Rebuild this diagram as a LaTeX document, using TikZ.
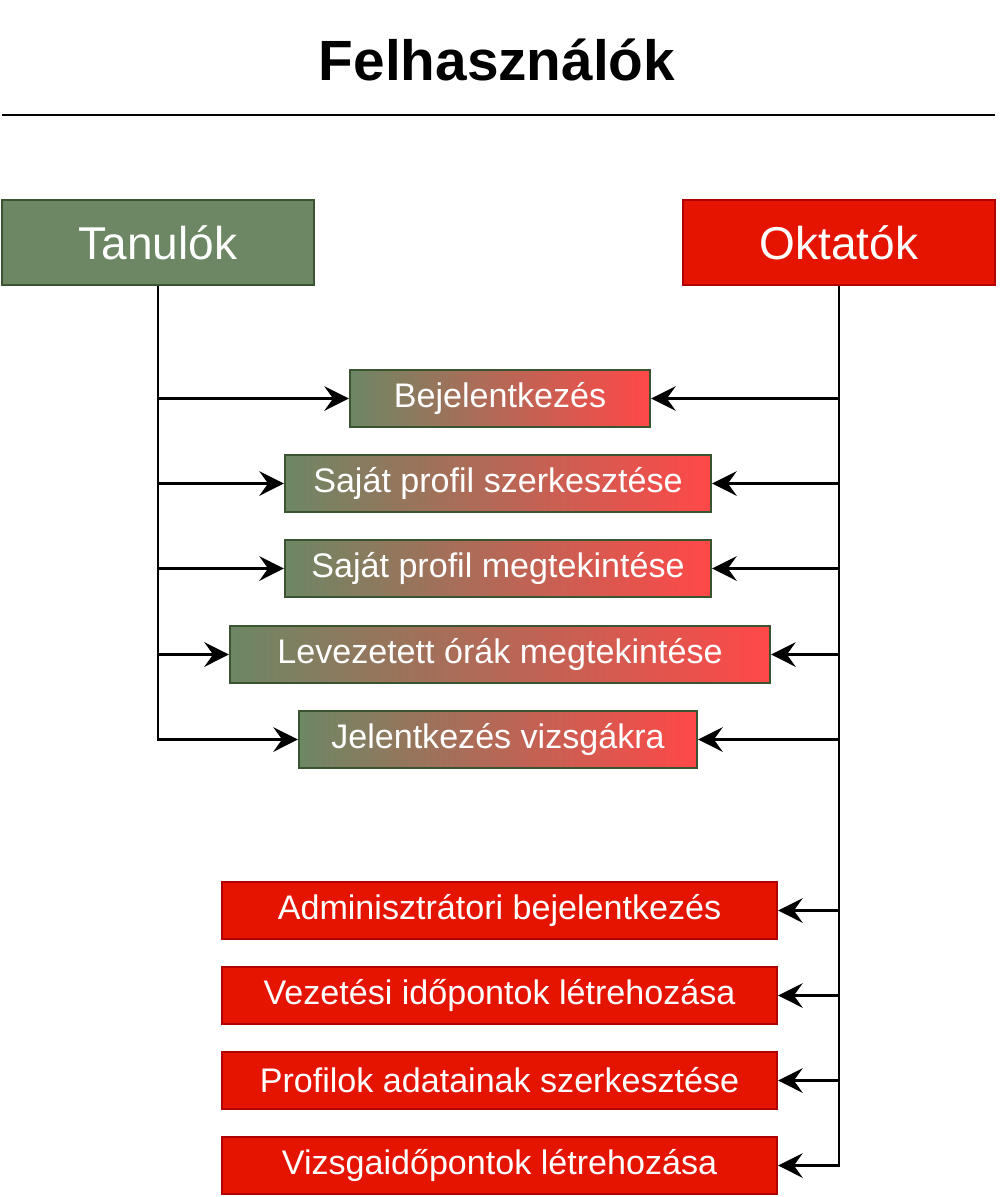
\documentclass[tikz,border=0pt]{standalone}
\usepackage{fontspec}
\setmainfont{Liberation Sans}
\usepackage{xcolor}
\usetikzlibrary{arrows.meta}

\definecolor{zold}{HTML}{6D8764}
\definecolor{zoldkeret}{HTML}{3A5431}
\definecolor{piros}{HTML}{E51400}
\definecolor{piroskeret}{HTML}{B20000}
\definecolor{vilagospiros}{HTML}{FF4848}

\begin{document}
\begin{tikzpicture}[x=0.02cm,y=-0.02cm,
fo/.style={draw=#1,line width=1.3pt,text=white,minimum height=1.7cm,minimum width=6.24cm,
  font=\fontsize{26.2}{30}\selectfont},
atmenet/.style={draw=zoldkeret,line width=1.3pt,left color=zold,right color=vilagospiros,
  text=white,minimum height=1.14cm,font=\fontsize{19.4}{23}\selectfont},
admin/.style={draw=piroskeret,line width=1.3pt,fill=piros,text=white,minimum height=1.14cm,
  minimum width=11.1cm,font=\fontsize{19.4}{23}\selectfont},
nyil/.style={line width=1.5pt,-{Stealth[length=14pt,width=14pt,inset=5pt]}},
]
\useasboundingbox (0,0) rectangle (1000,1197);

\node[font=\fontsize{32.3}{38}\selectfont\bfseries] (cim) at (497,60) {Felhasználók};
\coordinate (v1) at (2,115);
\coordinate (v2) at (995,115);
\draw[line width=1.5pt] (v1) -- (v2);

\node[fo=zoldkeret,fill=zold] (tan) at (158,242.5) {Tanulók};
\node[fo=piroskeret,fill=piros] (okt) at (839,242.5) {Oktatók};

% kozos funkciok
\node[atmenet,minimum width=6cm] (b1) at (500,398.5) {Bejelentkezés};
\node[atmenet,minimum width=8.52cm] (b2) at (498,483.5) {Saját profil szerkesztése};
\node[atmenet,minimum width=8.52cm] (b3) at (498,568.5) {Saját profil megtekintése};
\node[atmenet,minimum width=10.8cm] (b4) at (500,654.5) {Levezetett órák megtekintése};
\node[atmenet,minimum width=7.96cm] (b5) at (498,739.5) {Jelentkezés vizsgákra};

% csak oktatok
\node[admin] (a1) at (499.5,910.5) {Adminisztrátori bejelentkezés};
\node[admin] (a2) at (499.5,995.5) {Vezetési időpontok létrehozása};
\node[admin] (a3) at (499.5,1080.5) {Profilok adatainak szerkesztése};
\node[admin] (a4) at (499.5,1165.5) {Vizsgaidőpontok létrehozása};

\foreach \b in {b1,b2,b3,b4,b5}{
  \draw[nyil] (tan.south) |- (\b.west);
  \draw[nyil] (okt.south) |- (\b.east);
}
\foreach \a in {a1,a2,a3,a4}
  \draw[nyil] (okt.south) |- (\a.east);

\end{tikzpicture}
\end{document}
